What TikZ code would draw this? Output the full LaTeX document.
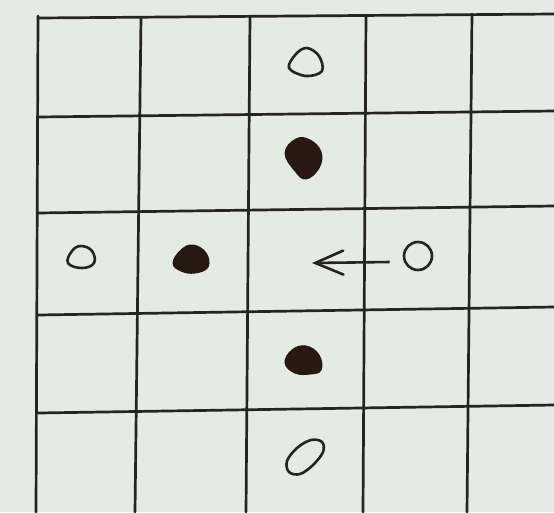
\documentclass[tikz,border=0pt]{standalone}
\usetikzlibrary{arrows.meta}
\definecolor{paper}{RGB}{228,235,228}
\definecolor{ink}{RGB}{38,36,34}
\definecolor{blob}{RGB}{40,24,18}
\tikzset{
  gridline/.style={draw=ink, line width=2.7pt, line cap=round},
  openmark/.style={draw=ink, line width=2.6pt, line join=round},
  fillmark/.style={fill=blob, draw=blob, line width=1pt, line join=round},
}
\begin{document}
\begin{tikzpicture}[x=1pt,y=-1pt]
\fill[paper] (0,0) rectangle (554,512);
\useasboundingbox (0,0) rectangle (554,512);
% horizontal lines
\draw[gridline] (38,18) -- (554,14);
\draw[gridline] (38,117) -- (554,111);
\draw[gridline] (38,213) -- (554,206);
\draw[gridline] (38,315) -- (554,307);
\draw[gridline] (38,413) -- (554,405);
% vertical lines
\draw[gridline] (38,16) -- (36,512);
\draw[gridline] (141,17) -- (135,512);
\draw[gridline] (250,16) -- (246,512);
\draw[gridline] (366,15) -- (363,512);
\draw[gridline] (472,14) -- (467,512);
% open marks
\draw[openmark] plot[smooth cycle, tension=0.6] coordinates {(289,68) (296,54) (307,48) (319,56) (322,71) (306,76)};
\draw[openmark] plot[smooth cycle, tension=0.7] coordinates {(68,263) (72,251) (81,246) (92,251) (94,263) (82,268)};
\draw[openmark] plot[smooth cycle, tension=0.6] coordinates {(322,442) (323,452) (313,465) (300,474) (289,472) (287,461) (297,448) (311,440)};
% filled marks
\fill[fillmark] plot[smooth cycle, tension=0.7] coordinates {(285,153) (296,139) (310,140) (321,152) (319,168) (306,179) (295,171)};
\fill[fillmark] plot[smooth cycle, tension=0.7] coordinates {(173,263) (181,250) (193,245) (206,253) (208,267) (195,273) (181,271)};
\fill[fillmark] plot[smooth cycle, tension=0.7] coordinates {(285,363) (292,350) (306,346) (319,355) (321,370) (310,374) (295,373)};
% right circle with arrow
\node[circle, draw=ink, line width=2.6pt, minimum width=28pt, minimum height=28pt, inner sep=0pt] (cR) at (418,256) {};
\coordinate (tip) at (312,263);
\draw[draw=ink, line width=2.6pt, -{Straight Barb[length=28pt,width=24pt,line cap=round]}] ([xshift=-13pt,yshift=-6pt]cR.west) -- (tip);
\end{tikzpicture}
\end{document}
